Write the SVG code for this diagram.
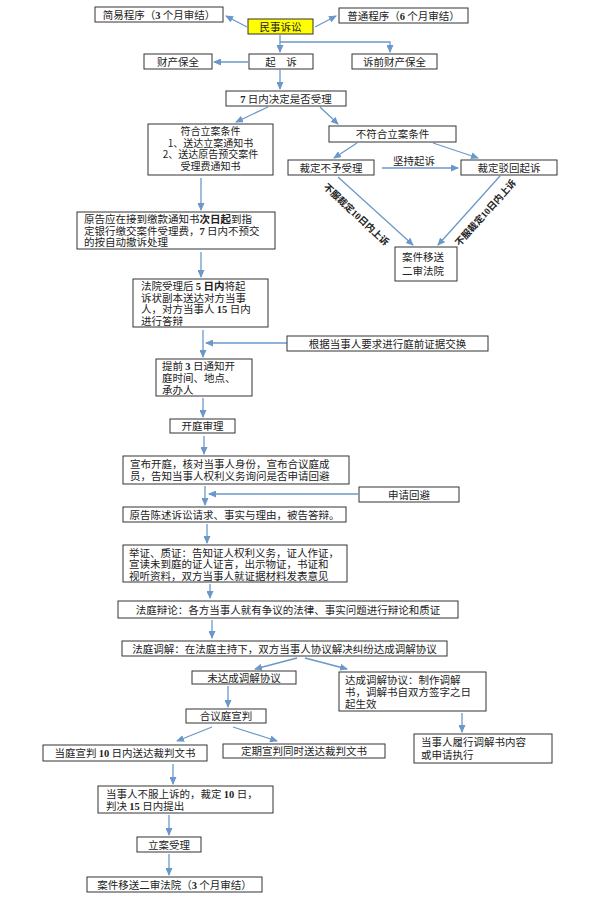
<svg xmlns="http://www.w3.org/2000/svg" width="593" height="902" viewBox="0 0 593 902">
<style>
.b{fill:#fff;stroke:#333;stroke-width:1}
.y{fill:#ffff00;stroke:#333;stroke-width:1}
text{font-family:"Noto Sans CJK SC","Liberation Sans",sans-serif;font-size:10.5px;fill:#222}
.m{font-size:10px}
.c{text-anchor:middle}
.n{font-family:"Liberation Serif",serif;font-weight:bold}
.l{fill:none;stroke:#6a98c8;stroke-width:1.3}
.a{marker-end:url(#ah)}
.r{font-size:9.5px;font-weight:bold}
</style>
<defs>
<marker id="ah" markerUnits="userSpaceOnUse" markerWidth="8" markerHeight="7" refX="7" refY="3.5" orient="auto">
<path d="M0,0 L8,3.5 L0,7 z" fill="#6a98c8"/>
</marker>
</defs>
<rect width="593" height="902" fill="#fff"/>
<g id="connectors">
<path class="l a" d="M247,27 L226,16"/>
<path class="l a" d="M315,27 L336,16"/>
<path class="l a" d="M280,35 L280,52"/>
<path class="l a" d="M280,42 L390,42 L390,52"/>
<path class="l a" d="M248,62 L214,62"/>
<path class="l a" d="M280,70 L280,89"/>
<path class="l a" d="M268,107 L236,122"/>
<path class="l a" d="M320,107 L338,124"/>
<path class="l a" d="M357,143 L334,158"/>
<path class="l a" d="M433,143 L478,158"/>
<path class="l a" d="M382,168 L458,168"/>
<path class="l a" d="M338,177 L413,245"/>
<path class="l a" d="M500,176 L438,245"/>
<path class="l a" d="M201,178 L201,210"/>
<path class="l a" d="M201,252 L201,277"/>
<path class="l a" d="M203,330 L203,357"/>
<path class="l a" d="M287,343 L206,343"/>
<path class="l a" d="M203,398 L203,417"/>
<path class="l a" d="M204,436 L204,454"/>
<path class="l a" d="M205,486 L205,505"/>
<path class="l a" d="M358,494 L209,494"/>
<path class="l a" d="M207,524 L207,543"/>
<path class="l a" d="M210,584 L210,598"/>
<path class="l a" d="M212,620 L212,638"/>
<path class="l a" d="M297,658 L255,669"/>
<path class="l a" d="M305,658 L347,669"/>
<path class="l a" d="M228,686 L228,707"/>
<path class="l a" d="M212,727 L177,741"/>
<path class="l a" d="M233,727 L277,741"/>
<path class="l a" d="M462,713 L462,732"/>
<path class="l a" d="M173,764 L173,784"/>
<path class="l a" d="M169,815 L169,835"/>
<path class="l a" d="M169,854 L169,875"/>
<text x="414" y="165" class="c">坚持起诉</text>
<text class="r c" transform="translate(354,217) rotate(43)">不服裁定<tspan class="n">10</tspan>日内上诉</text>
<text class="r c" transform="translate(488,215) rotate(-48)">不服裁定<tspan class="n">10</tspan>日内上诉</text>
</g>
<g id="n_jianyi"><rect class="b" x="95" y="7" width="128" height="15"/><text x="159" y="18.5" class="c">简易程序（<tspan class="n">3</tspan> 个月审结）</text></g>
<g id="n_minshi"><rect class="y" x="248" y="19" width="65" height="15"/><text x="280.5" y="30.5" class="c">民事诉讼</text></g>
<g id="n_putong"><rect class="b" x="339" y="8" width="129" height="15"/><text x="403.5" y="19.5" class="c">普通程序（<tspan class="n">6</tspan> 个月审结）</text></g>
<g id="n_caichan"><rect class="b" x="144" y="54" width="68" height="15"/><text x="178" y="65.5" class="c">财产保全</text></g>
<g id="n_qisu"><rect class="b" x="249" y="54" width="64" height="15"/><text x="281" y="65.5" class="c">起　诉</text></g>
<g id="n_suqian"><rect class="b" x="352" y="54" width="85" height="15"/><text x="394.5" y="65.5" class="c">诉前财产保全</text></g>
<g id="n_7ri"><rect class="b" x="226" y="91" width="120" height="15"/><text x="286" y="102.5" class="c"><tspan class="n">7</tspan> 日内决定是否受理</text></g>
<g id="n_fuhe"><rect class="b" x="148" y="124" width="125" height="51"/>
<text x="210.5" y="135" class="c m">符合立案条件</text>
<text x="210.5" y="146.5" class="c m">1、送达立案通知书</text>
<text x="210.5" y="158" class="c m">2、送达原告预交案件</text>
<text x="210.5" y="169.5" class="c m">受理费通知书</text></g>
<g id="n_bufuhe"><rect class="b" x="329" y="126" width="127" height="16"/><text x="392.5" y="138" class="c">不符合立案条件</text></g>
<g id="n_buyu"><rect class="b" x="288" y="160" width="86" height="15"/><text x="331" y="171.5" class="c">裁定不予受理</text></g>
<g id="n_bohui"><rect class="b" x="461" y="160" width="96" height="15"/><text x="509" y="171.5" class="c">裁定驳回起诉</text></g>
<g id="n_yisong1"><rect class="b" x="395" y="247" width="62" height="34"/>
<text x="402" y="261">案件移送</text><text x="402" y="274.5">二审法院</text></g>
<g id="n_yuangao"><rect class="b" x="77" y="212" width="198" height="37"/>
<text x="84" y="222.5">原告应在接到缴款通知书<tspan font-weight="bold">次日起</tspan>到指</text>
<text x="84" y="234.5">定银行缴交案件受理费，<tspan class="n">7</tspan> 日内不预交</text>
<text x="84" y="246">的按自动撤诉处理</text></g>
<g id="n_fayuan"><rect class="b" x="133" y="279" width="135" height="48"/>
<text x="141" y="290">法院受理后 <tspan class="n">5</tspan> <tspan font-weight="bold">日内</tspan>将起</text>
<text x="141" y="301.5">诉状副本送达对方当事</text>
<text x="141" y="313">人，对方当事人 <tspan class="n">15</tspan> 日内</text>
<text x="141" y="324.5">进行答辩</text></g>
<g id="n_genju"><rect class="b" x="287" y="336" width="201" height="15"/><text x="387.5" y="347.5" class="c">根据当事人要求进行庭前证据交换</text></g>
<g id="n_tiqian"><rect class="b" x="156" y="359" width="96" height="37"/>
<text x="162" y="370">提前 <tspan class="n">3</tspan> 日通知开</text>
<text x="162" y="382">庭时间、地点、</text>
<text x="162" y="394">承办人</text></g>
<g id="n_kaiting"><rect class="b" x="170" y="419" width="65" height="14"/><text x="202.5" y="430" class="c">开庭审理</text></g>
<g id="n_xuanbu"><rect class="b" x="123" y="456" width="226" height="28"/>
<text x="130" y="467.5">宣布开庭，核对当事人身份，宣布合议庭成</text>
<text x="130" y="480">员，告知当事人权利义务询问是否申请回避</text></g>
<g id="n_huibi"><rect class="b" x="359" y="487" width="100" height="15"/><text x="409" y="498.5" class="c">申请回避</text></g>
<g id="n_chenshu"><rect class="b" x="123" y="507" width="223" height="15"/><text x="234.5" y="518.5" class="c">原告陈述诉讼请求、事实与理由，被告答辩。</text></g>
<g id="n_juzheng"><rect class="b" x="123" y="545" width="224" height="37"/>
<text x="129" y="556.5">举证、质证：告知证人权利义务，证人作证，</text>
<text x="129" y="568">宣读未到庭的证人证言，出示物证，书证和</text>
<text x="129" y="579.5">视听资料，双方当事人就证据材料发表意见</text></g>
<g id="n_bianlun"><rect class="b" x="118" y="601" width="340" height="17"/><text x="288" y="613.5" class="c" font-size="11">法庭辩论：各方当事人就有争议的法律、事实问题进行辩论和质证</text></g>
<g id="n_tiaojie"><rect class="b" x="122" y="641" width="325" height="15"/><text x="284.5" y="652.5" class="c">法庭调解：在法庭主持下，双方当事人协议解决纠纷达成调解协议</text></g>
<g id="n_weidacheng"><rect class="b" x="192" y="671" width="104" height="13"/><text x="244" y="681.5" class="c">未达成调解协议</text></g>
<g id="n_dacheng"><rect class="b" x="339" y="672" width="147" height="39"/>
<text x="345" y="684">达成调解协议：制作调解</text>
<text x="345" y="696">书，调解书自双方签字之日</text>
<text x="345" y="708">起生效</text></g>
<g id="n_heyi"><rect class="b" x="186" y="709" width="80" height="14"/><text x="226" y="720" class="c">合议庭宣判</text></g>
<g id="n_dangting"><rect class="b" x="43" y="745" width="164" height="16"/><text x="125" y="757" class="c">当庭宣判 <tspan class="n">10</tspan> 日内送达裁判文书</text></g>
<g id="n_dingqi"><rect class="b" x="223" y="744" width="162" height="14"/><text x="304" y="755" class="c">定期宣判同时送达裁判文书</text></g>
<g id="n_lvxing"><rect class="b" x="414" y="734" width="138" height="29"/>
<text x="421" y="746">当事人履行调解书内容</text>
<text x="421" y="758.5">或申请执行</text></g>
<g id="n_shangsu"><rect class="b" x="98" y="786" width="175" height="27"/>
<text x="106" y="797.5">当事人不服上诉的，裁定 <tspan class="n">10</tspan> 日，</text>
<text x="106" y="809.5">判决 <tspan class="n">15</tspan> 日内提出</text></g>
<g id="n_lian"><rect class="b" x="137" y="837" width="64" height="15"/><text x="169" y="848.5" class="c">立案受理</text></g>
<g id="n_yisong2"><rect class="b" x="87" y="877" width="175" height="15"/><text x="174.5" y="888.5" class="c">案件移送二审法院（<tspan class="n">3</tspan> 个月审结）</text></g>
</svg>
